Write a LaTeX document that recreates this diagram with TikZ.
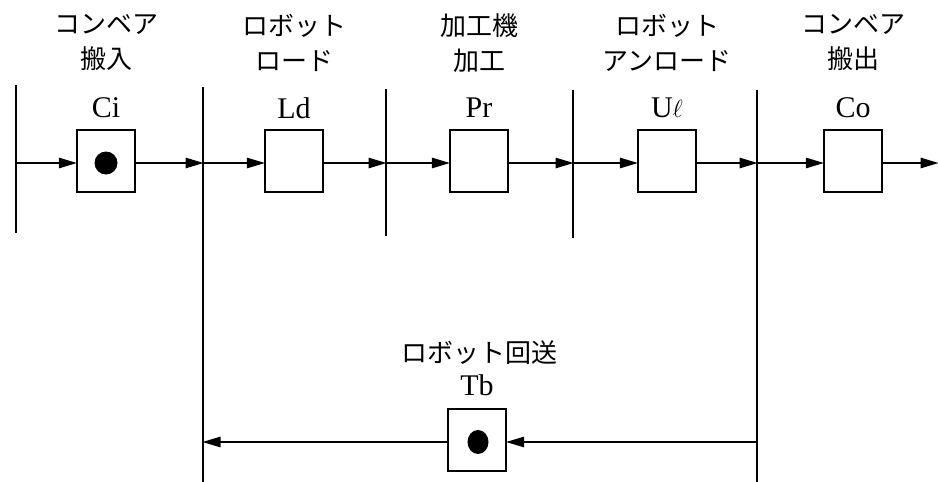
\documentclass[tikz,border=0pt]{standalone}
\usepackage{fontspec}
\setmainfont{Liberation Serif}
\newfontfamily\jpfont{Noto Sans CJK JP}
\usetikzlibrary{arrows.meta,shapes.geometric}

\begin{document}
\begin{tikzpicture}[x=1pt,y=-1pt,
  placebox/.style={draw, line width=1.3pt, minimum width=58pt, minimum height=62pt, inner sep=0pt},
  tokendot/.style={circle, fill, minimum size=23pt, inner sep=0pt},
  barline/.style={line width=1.6pt},
  arcline/.style={line width=1.3pt, -{Triangle[length=18pt,width=10.5pt]}, shorten >=-0.5pt},
  pname/.style={font=\fontsize{30}{32}\selectfont, inner sep=0pt},
  jlabel/.style={font=\jpfont\fontsize{26}{35}\selectfont, inner sep=0pt, align=center}]
\useasboundingbox (0,0) rectangle (938,482);

% transitions (vertical bars)
\coordinate (t0top) at (16,85);  \coordinate (t0bot) at (16,233);
\coordinate (t1top) at (203,87); \coordinate (t1bot) at (203,482);
\coordinate (t2top) at (386,89); \coordinate (t2bot) at (386,236);
\coordinate (t3top) at (573,90); \coordinate (t3bot) at (573,238);
\coordinate (t4top) at (757,90); \coordinate (t4bot) at (757,482);
\foreach \tr in {t0,t1,t2,t3,t4} \draw[barline] (\tr top) -- (\tr bot);

% points where the arcs meet the bars
\coordinate (t0m) at (16,163);
\coordinate (t1m) at (203,163);
\coordinate (t2m) at (386,163);
\coordinate (t3m) at (573,163);
\coordinate (t4m) at (757,163);
\coordinate (t1b) at (203,442);
\coordinate (t4b) at (757,442);
\coordinate (out) at (938,163);

% places
\node[placebox] (Ci) at (106,161) {};
\node[placebox] (Ld) at (294,161) {};
\node[placebox] (Pr) at (479,161) {};
\node[placebox] (Ul) at (667,161) {};
\node[placebox] (Co) at (853,161) {};
\node[placebox] (Tb) at (477,440) {};

% tokens
\node[tokendot] (tokCi) at (106,163) {};
\node[tokendot, ellipse, minimum width=21pt, minimum height=24pt] (tokTb) at (478,442) {};

% place names
\node[pname] (nCi) at (106,108) {Ci};
\node[pname] (nLd) at (294,108) {Ld};
\node[pname] (nPr) at (479,108) {Pr};
\node[pname] (nUl) at (667,108) {U$\ell$};
\node[pname] (nCo) at (853,108) {Co};
\node[pname] (nTb) at (477,385) {Tb};

% descriptions
\node[jlabel] (dCi) at (106,43) {コンベア\\搬入};
\node[jlabel] (dLd) at (294,43) {ロボット\\ロード};
\node[jlabel] (dPr) at (479,43) {加工機\\加工};
\node[jlabel] (dUl) at (667,43) {ロボット\\アンロード};
\node[jlabel] (dCo) at (853,43) {コンベア\\搬出};
\node[jlabel] (dTb) at (479,353) {ロボット回送};

% arcs
\draw[arcline] (t0m) -- (Ci.west |- t0m);
\draw[arcline] (Ci.east |- t1m) -- (t1m);
\draw[arcline] (t1m) -- (Ld.west |- t1m);
\draw[arcline] (Ld.east |- t2m) -- (t2m);
\draw[arcline] (t2m) -- (Pr.west |- t2m);
\draw[arcline] (Pr.east |- t3m) -- (t3m);
\draw[arcline] (t3m) -- (Ul.west |- t3m);
\draw[arcline] (Ul.east |- t4m) -- (t4m);
\draw[arcline] (t4m) -- (Co.west |- t4m);
\draw[arcline] (Co.east |- out) -- (out);
\draw[arcline] (t4b) -- (Tb.east |- t4b);
\draw[arcline] (Tb.west |- t1b) -- (t1b);
\end{tikzpicture}
\end{document}
